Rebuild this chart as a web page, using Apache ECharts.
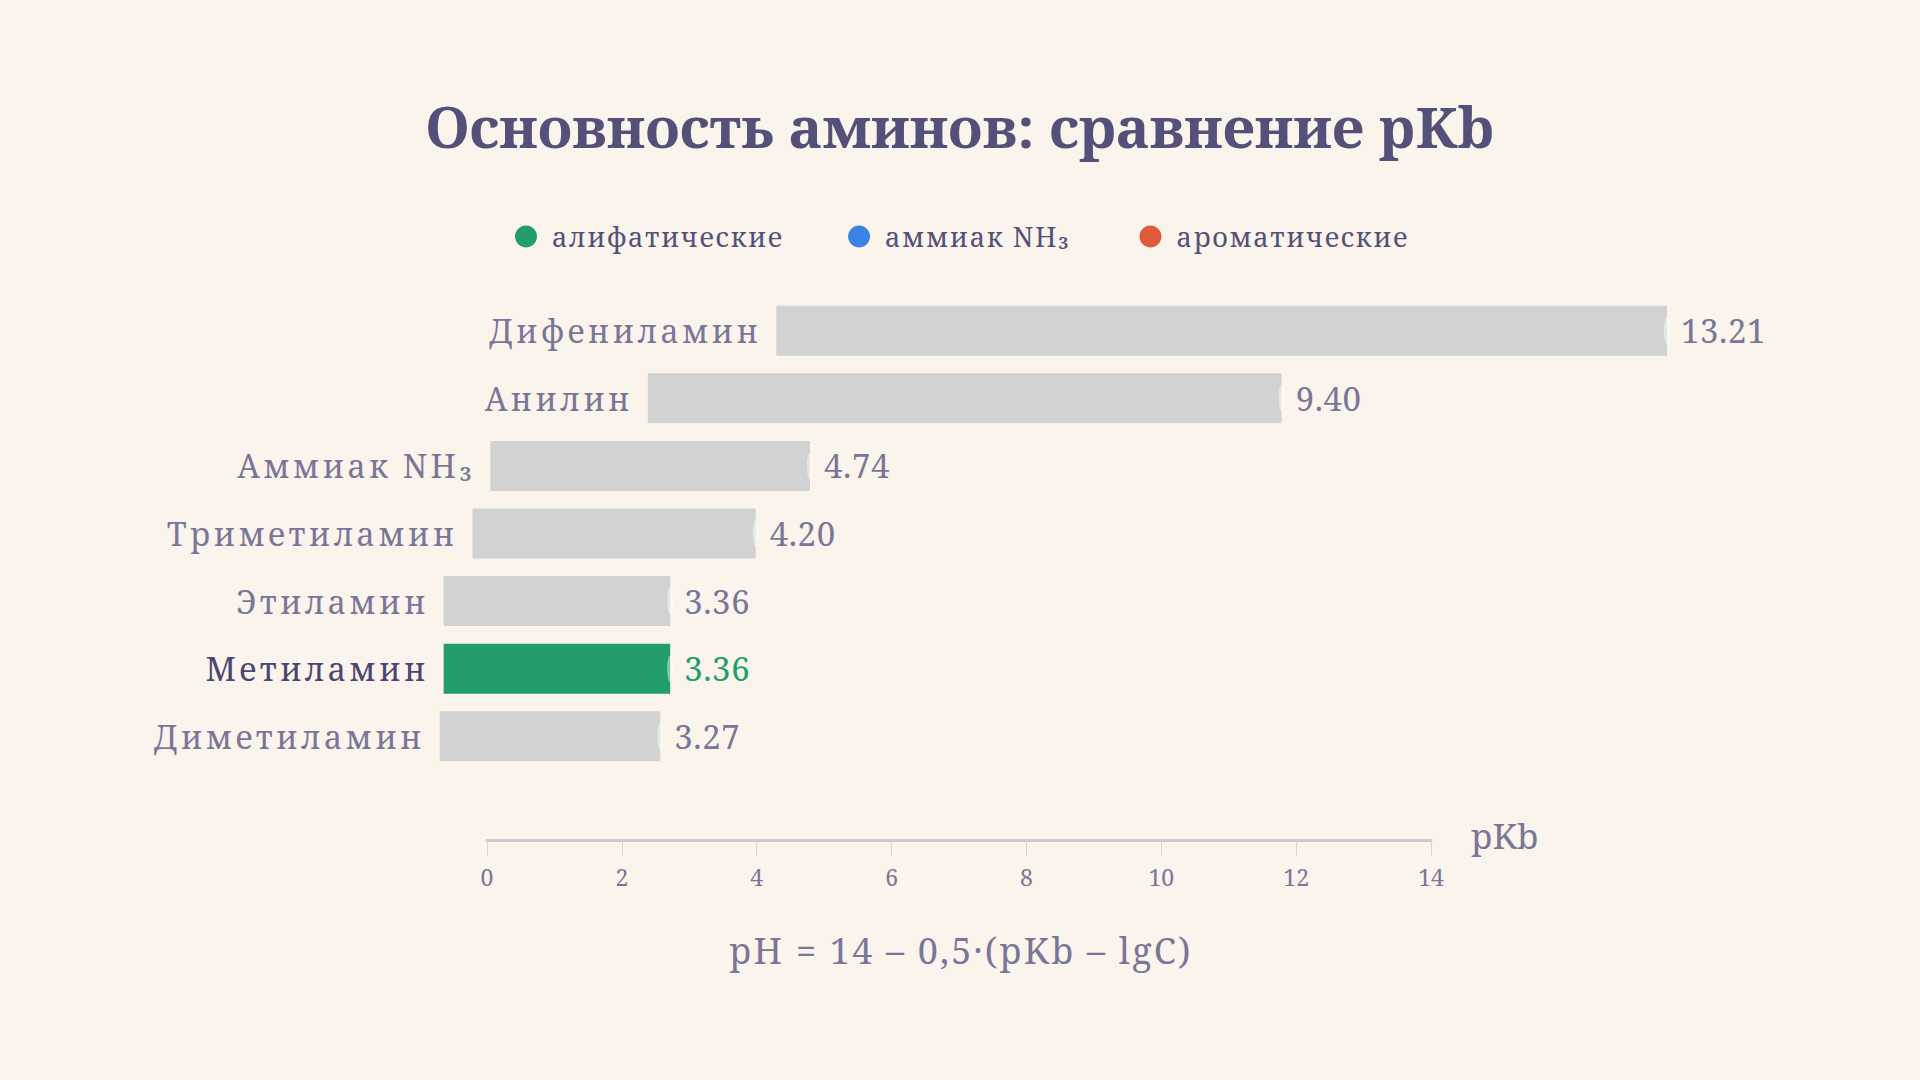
<!DOCTYPE html>
<html>
<head>
<meta charset="utf-8">
<title>Основность аминов</title>
<script src="https://cdn.jsdelivr.net/npm/echarts@6/dist/echarts.min.js"></script>
<style>
    html, body { margin: 0; padding: 0; background: #faf4ec; }
    #chart { width: 1920px; height: 1080px; }
    /* разрядка текста как на образце */
    #chart text[style*="32px"] { letter-spacing: 3.3px; }
    #chart text[style*="33px"] { letter-spacing: 0.6px; }
    #chart text[style*="27px"] { letter-spacing: 1.6px; }
    #chart text[style*="36px"] { letter-spacing: 2.2px; }
</style>
</head>
<body>
<div id="chart"></div>
<script>
// данные
var amines = ['Дифениламин', 'Анилин', 'Аммиак NH₃', 'Триметиламин', 'Этиламин', 'Метиламин', 'Диметиламин'];
var pKb = [13.21, 9.40, 4.74, 4.20, 3.36, 3.36, 3.27];
// начало полосы на шкале pKb (как на картинке)
var barStart = [4.29, 2.385, 0.05, -0.215, -0.643, -0.643, -0.70];
var groupOf = ['arom', 'arom', 'nh3', 'aliph', 'aliph', 'aliph', 'aliph'];
var groups = ['aliph', 'nh3', 'arom'];
var groupNames = ['алифатические', 'аммиак NH₃', 'ароматические'];
var groupColors = ['#219e6b', '#3a84e8', '#e05b3b'];
var highlighted = 'Метиламин';
var xTicks = [0, 14, 2];

var FONT = "'Noto Serif', 'DejaVu Serif', serif";
var chart = echarts.init(document.getElementById('chart'), null, { renderer: 'svg' });

function renderItem(params, api) {
    var idx = api.value(0);
    var start = api.value(1);
    var val = api.value(2);
    var p0 = api.coord([start, idx]);
    var p1 = api.coord([start + val, idx]);
    var h = api.size([0, 1])[1] * 0.74;
    var isHi = amines[idx] === highlighted;
    var color = api.visual('color');
    return {
        type: 'group',
        children: [
            {
                type: 'rect',
                shape: { x: p0[0], y: p0[1] - h / 2, width: p1[0] - p0[0], height: h },
                style: { fill: isHi ? color : '#d2d2d2' }
            },
            {
                // светлый блик на конце полосы
                type: 'ellipse',
                shape: { cx: p1[0], cy: p0[1], rx: 3, ry: h * 0.27 },
                style: { fill: '#ffffff', opacity: 0.45 }
            },
            {
                type: 'text',
                x: p0[0] - 15, y: p0[1],
                style: {
                    text: amines[idx], fill: isHi ? '#4b4672' : '#7b7698',
                    font: '32px ' + FONT, align: 'right', verticalAlign: 'middle'
                }
            },
            {
                type: 'text',
                x: p1[0] + 14, y: p0[1],
                style: {
                    text: val.toFixed(2), fill: isHi ? color : '#7b7698',
                    font: '33px ' + FONT, align: 'left', verticalAlign: 'middle'
                }
            }
        ]
    };
}

var series = groups.map(function (g, gi) {
    var data = [];
    for (var i = 0; i < amines.length; i++) {
        if (groupOf[i] === g) data.push([i, barStart[i], pKb[i]]);
    }
    return {
        name: groupNames[gi],
        type: 'custom',
        renderItem: renderItem,
        itemStyle: { color: groupColors[gi] },
        encode: { x: [1, 2], y: 0 },
        data: data
    };
});

var option = {
    backgroundColor: '#faf4ec',
    animation: false,
    title: {
        text: 'Основность аминов: сравнение pKb',
        left: 'center',
        top: 92,
        textStyle: { fontFamily: FONT, fontSize: 57, fontWeight: 'bold', color: '#55507a' }
    },
    legend: {
        top: 218,
        left: 510,
        icon: 'circle',
        itemWidth: 22,
        itemHeight: 22,
        itemGap: 85,
        textStyle: { fontFamily: FONT, fontSize: 27, color: '#55507a', padding: [0, 0, 0, 10] },
        data: groupNames
    },
    grid: { left: 487, right: 489, top: 297, height: 473 },
    xAxis: {
        type: 'value',
        min: xTicks[0],
        max: xTicks[1],
        interval: xTicks[2],
        offset: 70,
        name: '{n|pKb}',
        nameLocation: 'end',
        nameGap: 40,
        nameTextStyle: {
            fontFamily: FONT, fontSize: 35, color: '#7b7698',
            verticalAlign: 'middle',
            rich: {
                n: { fontFamily: FONT, fontSize: 35, color: '#7b7698', padding: [0, 0, 10, 0] }
            }
        },
        axisLine: { show: true, lineStyle: { color: '#cbc8cf', width: 3 } },
        axisTick: { show: true, length: 16, lineStyle: { color: '#d6d4d8', width: 1 } },
        axisLabel: { fontFamily: FONT, fontSize: 23, color: '#7b7698', margin: 25 },
        splitLine: { show: false }
    },
    yAxis: {
        type: 'category',
        inverse: true,
        data: amines,
        show: false
    },
    graphic: [{
        type: 'text',
        x: 961,
        y: 950,
        style: {
            text: 'pH = 14 – 0,5·(pKb – lgC)',
            font: '36px ' + FONT,
            fill: '#7b7698',
            align: 'center',
            verticalAlign: 'middle'
        }
    }],
    series: series
};

chart.setOption(option);
</script>
</body>
</html>
